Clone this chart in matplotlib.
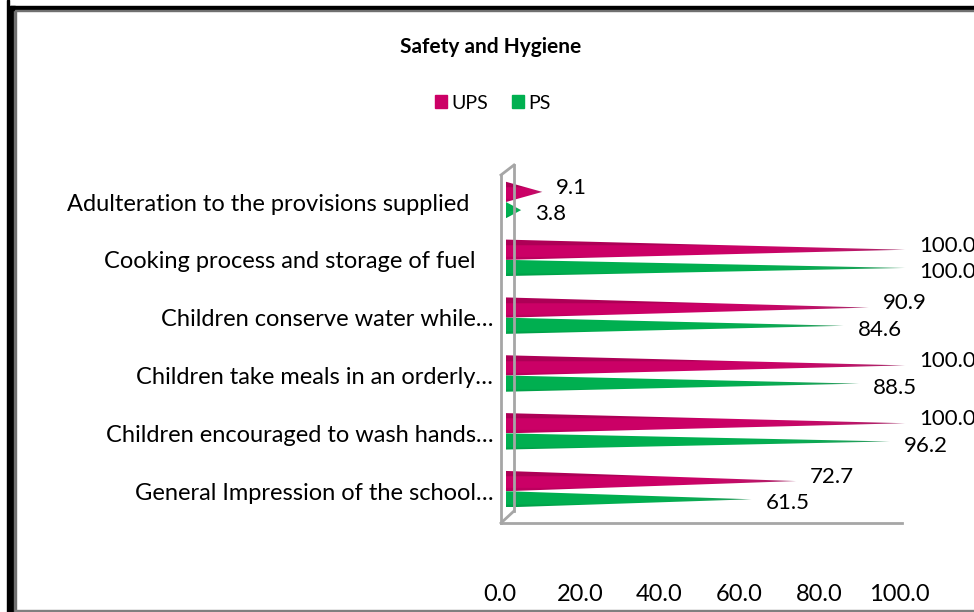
import numpy as np
import matplotlib.pyplot as plt
from matplotlib.patches import Polygon, Rectangle
from matplotlib.lines import Line2D
from matplotlib.transforms import ScaledTranslation
from matplotlib.colors import to_rgb

# Survey results, top row first
categories = [
    "Adulteration to the provisions supplied    ",
    "Cooking process and storage of fuel   ",
    "Children conserve water while\u2026",
    "Children take meals in an orderly\u2026",
    "Children encouraged to wash hands\u2026",
    "General Impression of the school\u2026",
]
ups = [9.1, 100.0, 90.9, 100.0, 100.0, 72.7]
ps = [3.8, 100.0, 84.6, 88.5, 96.2, 61.5]
series = ["UPS", "PS"]
colors = ["#CC0066", "#00B050"]
xticks = [0, 20, 40, 60, 80, 100]

plt.rcParams["font.family"] = ["Lato", "DejaVu Sans"]
W, H = 974, 612
FS = 17
fig = plt.figure(figsize=(W / 100, H / 100), dpi=100)


def fx(x):
    return x / W


def fy(y):
    return 1 - y / H


# plot area: wall at x=500, floor at y=523, top of wall at y=165
ax = fig.add_axes([fx(500), fy(523), fx(906) - fx(500), fy(165) - fy(523)])


def shaded_bar(ax, value, y0, y1, color, top_dark):
    """Pyramid-style bar: a triangle from the axis to the value, with shading."""
    rgb = np.array(to_rgb(color))
    ny, nx = 40, 200
    t = np.linspace(0, 1, ny)[:, None]
    s = np.linspace(0, 1, nx)[None, :]
    shade = np.ones((ny, nx))
    if top_dark:
        shade = shade - 0.15 * (t < 0.3)
    shade = shade - 0.08 * (t > 0.85)
    img = np.clip(rgb[None, None, :] * shade[:, :, None], 0, 1)
    grey = np.array([0.45, 0.45, 0.45])
    mix = (s ** 6 * 0.45)[:, :, None]
    img = img * (1 - mix) + grey * mix
    im = ax.imshow(img, extent=(0, value, y1, y0), origin="upper",
                   aspect="auto", interpolation="bilinear", zorder=3)
    tri = Polygon([(0, y0), (value, (y0 + y1) / 2), (0, y1)], closed=True,
                  facecolor="none", edgecolor="none", transform=ax.transData)
    ax.add_patch(tri)
    im.set_clip_path(tri)


y = np.arange(len(categories))
h_ups, h_ps = 0.35, 0.28
for i in range(len(categories)):
    shaded_bar(ax, ups[i], y[i] - h_ups, y[i], colors[0], True)
    shaded_bar(ax, ps[i], y[i], y[i] + h_ps, colors[1], False)
    ax.annotate(f"{ups[i]:.1f}", (ups[i], y[i] - h_ups / 2), xytext=(10, 3),
                textcoords="offset points", ha="left", va="center", fontsize=16)
    ax.annotate(f"{ps[i]:.1f}", (ps[i], y[i] + h_ps / 2), xytext=(10, -3),
                textcoords="offset points", ha="left", va="center", fontsize=16)

ax.set_xlim(-1.5, 100.25)
ax.set_ylim(5.55, -0.64)

for sp in ax.spines.values():
    sp.set_visible(False)
ax.set_yticks(y)
ax.set_yticklabels(categories, fontsize=FS)
ax.tick_params(axis="y", length=0, pad=5)
ax.set_xticks(xticks)
ax.set_xticklabels([f"{v:.1f}" for v in xticks], fontsize=FS)
ax.tick_params(axis="x", length=0, pad=44)
for lab in ax.get_xticklabels():
    lab.set_transform(lab.get_transform() + ScaledTranslation(-6 / 100, 0, fig.dpi_scale_trans))

# 3D side wall and floor edge
wall = "#A6A6A6"
for (x0, y0), (x1, y1) in [((501, 175), (501, 523)), ((514, 165), (514, 511)),
                           ((501, 175), (514, 165)), ((501, 523), (514, 511)),
                           ((501, 523), (902, 523))]:
    fig.add_artist(Line2D([fx(x0), fx(x1)], [fy(y0), fy(y1)], color=wall,
                          lw=2, transform=fig.transFigure, zorder=1))

fig.text(fx(491), fy(47), "Safety and Hygiene", ha="center", va="center",
         fontsize=15, fontweight="bold")

handles = [Rectangle((0, 0), 1, 1, color=c) for c in colors]
fig.legend(handles, series, loc="center", bbox_to_anchor=(fx(493), fy(103)),
           ncol=2, frameon=False, fontsize=14, handlelength=0.6, handleheight=0.6,
           handletextpad=0.25, columnspacing=1.2)

# chart border
fig.add_artist(Rectangle((fx(7), 0), fx(2), 1, color="black", transform=fig.transFigure))
fig.add_artist(Rectangle((fx(10), 0), fx(5), fy(6), color="black", transform=fig.transFigure))
fig.add_artist(Rectangle((fx(14), 0), fx(1.5), fy(10), color="#707070", transform=fig.transFigure))
fig.add_artist(Rectangle((fx(10), fy(10)), 1, fy(6) - fy(10), color="black", transform=fig.transFigure))
fig.add_artist(Rectangle((fx(15), fy(11)), 1, fy(10) - fy(11), color="#707070", transform=fig.transFigure))
fig.add_artist(Rectangle((fx(15), 0), 1, fy(609) - fy(611), color="#808080", transform=fig.transFigure))

fig.savefig("out.png", dpi=100)
